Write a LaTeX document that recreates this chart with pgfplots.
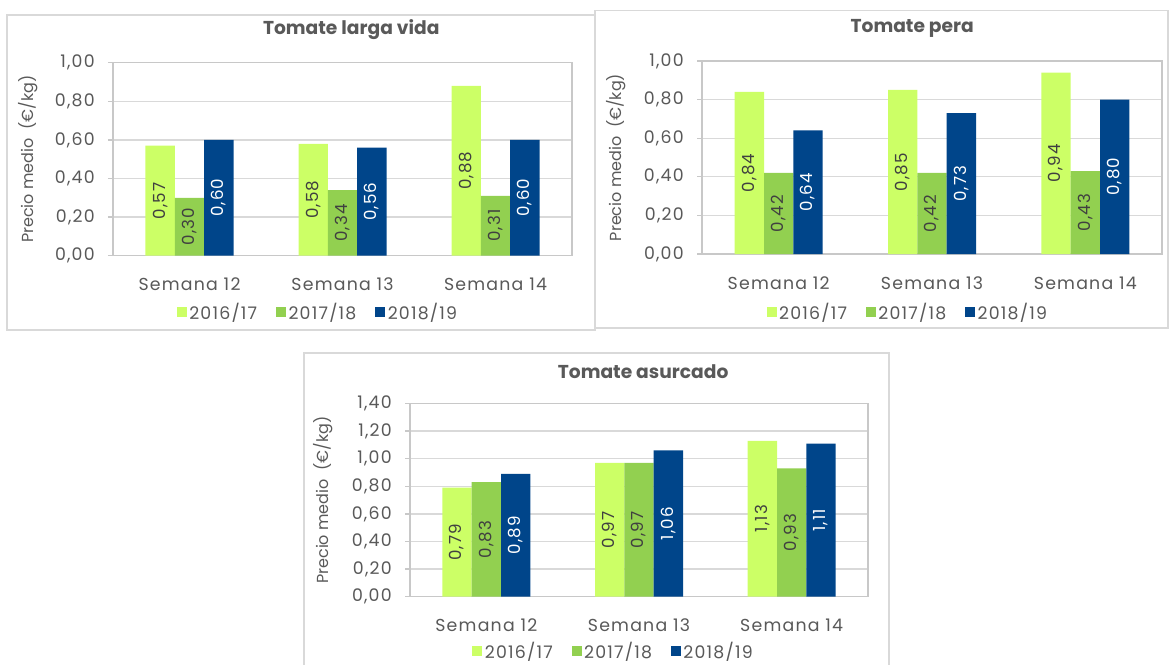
\documentclass[border=0pt]{standalone}
\usepackage{fontspec}
\setmainfont{Poppins}
\newfontfamily\spf[LetterSpace=7]{Poppins}
\usepackage{pgfplots}
\pgfplotsset{compat=1.18}
\definecolor{cA}{HTML}{CCFF66}
\definecolor{cB}{HTML}{92D050}
\definecolor{cC}{HTML}{00458A}
\definecolor{txt}{HTML}{595959}
\definecolor{grd}{HTML}{D9D9D9}
\definecolor{axl}{HTML}{C8C8C8}
\definecolor{lbl}{HTML}{404040}
\pgfplotsset{
  /pgfplots/ybar legend/.style={/pgfplots/legend image code/.code={\fill[##1] (0pt,-3.75pt) rectangle (7.5pt,3.75pt);}},
  panel/.style={
    scale only axis, anchor=south west,
    ybar=0pt, bar width=22pt,
    xmin=-0.5, xmax=2.5, ymin=0,
    xtick={0,1,2}, xticklabels={Semana 12,Semana 13,Semana 14},
    x tick style={draw=none},
    ytick distance=0.2, ytick pos=left,
    ymajorgrids, grid style={grd, line width=1pt},
    axis line style={axl, line width=1.1pt},
    y tick style={axl, line width=1pt}, tick align=outside, major tick length=3.75pt,
    /pgf/number format/use comma, /pgf/number format/fixed, /pgf/number format/fixed zerofill, /pgf/number format/precision=2, /pgf/number format/assume math mode=true,
    yticklabel style={font=\spf\fontsize{13}{15}\selectfont, text=txt, anchor=east, inner sep=0pt, xshift=-9.75pt},
    xticklabel style={font=\spf\fontsize{13}{15}\selectfont, text=txt, anchor=base, inner sep=0pt, yshift=-22.5pt},
    ylabel={Precio medio\ \ (€/kg)},
    ylabel style={font=\fontsize{12}{14}\selectfont, text=txt, anchor=center},
    every axis title shift=0pt,
    title style={font=\bfseries\fontsize{14}{16}\selectfont, text=txt, anchor=center},
    legend style={draw=none, fill=none, anchor=center, font=\spf\fontsize{13}{15}\selectfont, text=txt, legend columns=3, /tikz/every even column/.append style={column sep=12pt}},
    visualization depends on={y \as \rawy},
    nodes near coords,
    nodes near coords style={font=\spf\fontsize{12.5}{14}\selectfont, anchor=center, shift={(axis direction cs:0,-\rawy/2)}, rotate=90},
  },
  sA/.style={fill=cA, draw=none, every node near coord/.append style={text=lbl}},
  sB/.style={fill=cB, draw=none, every node near coord/.append style={text=lbl}},
  sC/.style={fill=cC, draw=none, every node near coord/.append style={text=white}},
}
\begin{document}
\begin{tikzpicture}
\useasboundingbox (0pt,-498pt) rectangle (877.5pt,0pt);
\begin{scope}[x=0.75pt,y=-0.75pt]
  \draw[grd, line width=1.1pt] (7,15) rectangle (595,330);
  \draw[grd, line width=1.1pt, fill=white] (595,10.7) rectangle (1168,328);
  \draw[grd, line width=1.1pt] (304,353) rectangle (889,690);
\end{scope}
% Panel 1
\begin{axis}[panel, at={(84.75pt,-191.775pt)}, width=344.25pt, height=144.75pt, ymax=1,
  title={Tomate larga vida}, title style={at={(axis description cs:0.519,1.169)}},
  ylabel style={at={(axis description cs:-0.185,0.5)}},
  legend style={at={(axis description cs:0.447,-0.294)}}]
\addplot[sA] coordinates {(0,0.57) (1,0.58) (2,0.88)};
\addplot[sB] coordinates {(0,0.30) (1,0.34) (2,0.31)};
\addplot[sC] coordinates {(0,0.60) (1,0.56) (2,0.60)};
\legend{2016/17,2017/18,2018/19}
\end{axis}
% Panel 2
\begin{axis}[panel, at={(526.5pt,-190.5pt)}, width=345pt, height=144.75pt, ymax=1,
  title={Tomate pera}, title style={at={(axis description cs:0.457,1.171)}},
  ylabel style={at={(axis description cs:-0.187,0.5)}},
  legend style={at={(axis description cs:0.448,-0.30)}}]
\addplot[sA] coordinates {(0,0.84) (1,0.85) (2,0.94)};
\addplot[sB] coordinates {(0,0.42) (1,0.42) (2,0.43)};
\addplot[sC] coordinates {(0,0.64) (1,0.73) (2,0.80)};
\legend{2016/17,2017/18,2018/19}
\end{axis}
% Panel 3
\begin{axis}[panel, at={(307.5pt,-447.525pt)}, width=343.5pt, height=144.9pt, ymax=1.4,
  title={Tomate asurcado}, title style={at={(axis description cs:0.509,1.163)}},
  ylabel style={at={(axis description cs:-0.19,0.5)}},
  legend style={at={(axis description cs:0.445,-0.282)}}]
\addplot[sA] coordinates {(0,0.79) (1,0.97) (2,1.13)};
\addplot[sB] coordinates {(0,0.83) (1,0.97) (2,0.93)};
\addplot[sC] coordinates {(0,0.89) (1,1.06) (2,1.11)};
\legend{2016/17,2017/18,2018/19}
\end{axis}
\end{tikzpicture}
\end{document}
